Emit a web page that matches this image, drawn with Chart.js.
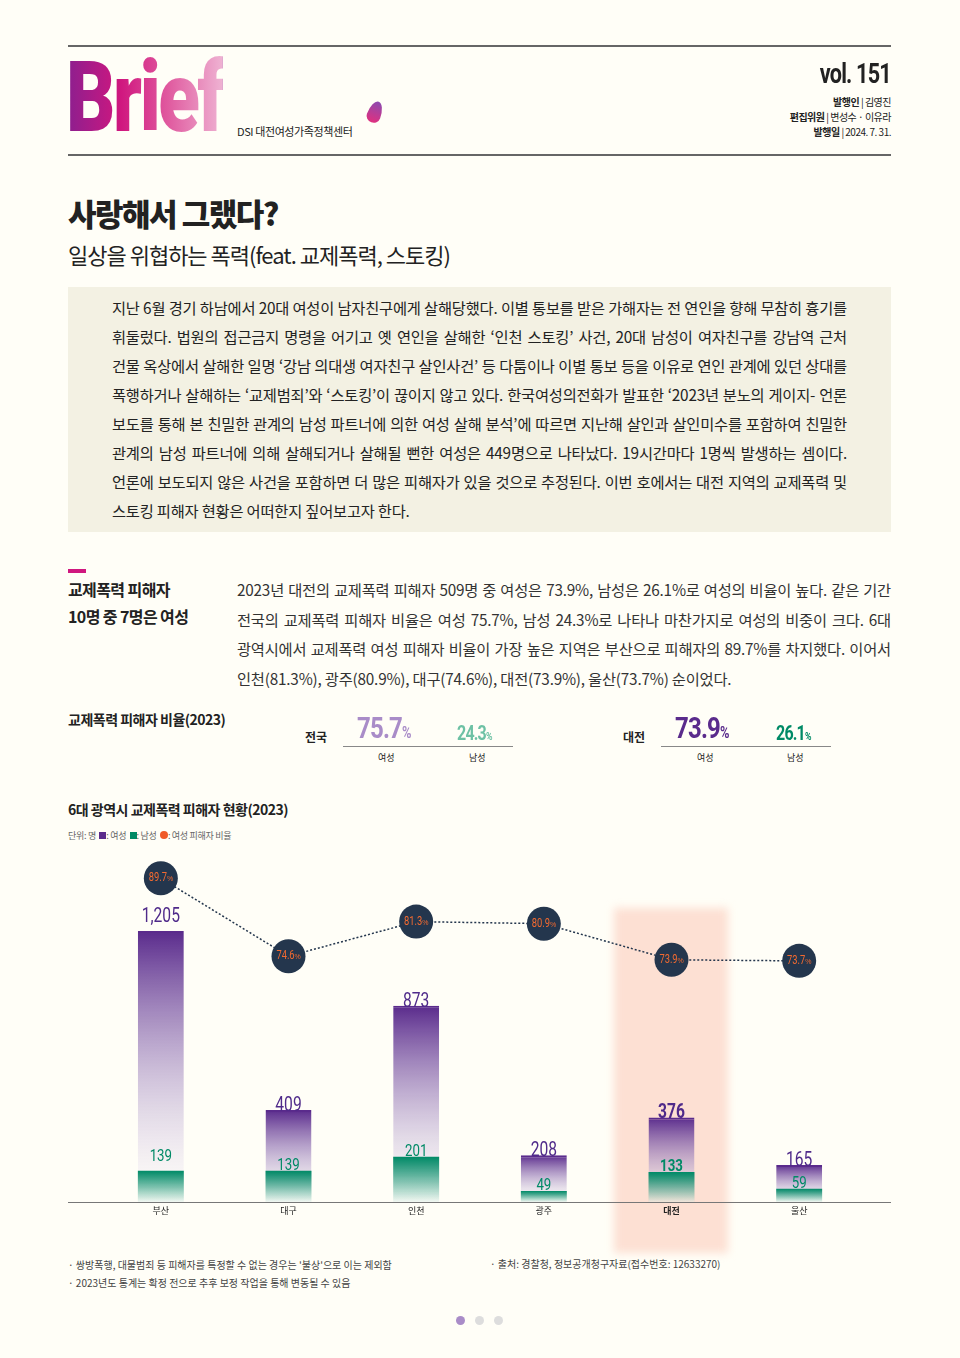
<!DOCTYPE html>
<html><head><meta charset="utf-8">
<script src="https://cdn.jsdelivr.net/npm/chart.js@4"></script>
<style>
body{margin:0;background:#fffef7;font-family:"Noto Sans CJK KR","Noto Sans",sans-serif;color:#222;}
#page{position:relative;width:960px;height:1358px;overflow:hidden;}
.abs{position:absolute;}
.hr{position:absolute;left:68px;width:823px;height:2px;background:#666;}
.brief{left:66px;top:48px;font-family:Roboto,sans-serif;font-weight:900;font-size:98px;letter-spacing:-3px;line-height:100px;background:linear-gradient(90deg,#8b1f8f,#d0177f 35%,#e05a9f 65%,#efb3d3);-webkit-background-clip:text;color:transparent;transform:scaleX(0.78);transform-origin:left;}
.para{font-size:15.3px;line-height:29px;letter-spacing:-0.2px;text-align:justify;word-break:keep-all;}
.num{font-family:Roboto,sans-serif;font-weight:bold;transform:scaleX(0.8);transform-origin:left;}
</style></head><body>
<div id="page">
<div class="hr" style="top:45px"></div>
<div class="hr" style="top:154px"></div>
<div class="abs brief">Brief</div>
<div class="abs" style="left:237px;top:123px;font-size:11px;letter-spacing:-0.4px">DSI 대전여성가족정책센터</div>
<div class="abs" style="left:368px;top:101px;width:14px;height:22px;background:linear-gradient(#8c4bb0,#e0307f);border-radius:50% 50% 50% 50%/70% 70% 30% 30%;transform:rotate(20deg)"></div>
<div class="abs num" style="right:69px;top:58px;font-size:27px;letter-spacing:-1px;transform-origin:right">vol. 151</div>
<div class="abs" style="right:69px;top:94px;font-size:10px;line-height:15px;text-align:right;letter-spacing:-0.5px"><b>발행인</b> | 김영진<br><b>편집위원</b> | 변성수 · 이유라<br><b>발행일</b> | 2024. 7. 31.</div>

<div class="abs" style="left:68px;top:190px;font-size:31px;font-weight:900;letter-spacing:-1.5px">사랑해서 그랬다?</div>
<div class="abs" style="left:68px;top:238px;font-size:22px;letter-spacing:-1px">일상을 위협하는 폭력(feat. 교제폭력, 스토킹)</div>

<div class="abs para" style="left:68px;top:287px;width:735px;height:226px;padding:6px 44px 13px 44px;background:#f3f1e3;">지난 6월 경기 하남에서 20대 여성이 남자친구에게 살해당했다. 이별 통보를 받은 가해자는 전 연인을 향해 무참히 흉기를 휘둘렀다. 법원의 접근금지 명령을 어기고 옛 연인을 살해한 ‘인천 스토킹’ 사건, 20대 남성이 여자친구를 강남역 근처 건물 옥상에서 살해한 일명 ‘강남 의대생 여자친구 살인사건’ 등 다툼이나 이별 통보 등을 이유로 연인 관계에 있던 상대를 폭행하거나 살해하는 ‘교제범죄’와 ‘스토킹’이 끊이지 않고 있다. 한국여성의전화가 발표한 ‘2023년 분노의 게이지- 언론 보도를 통해 본 친밀한 관계의 남성 파트너에 의한 여성 살해 분석’에 따르면 지난해 살인과 살인미수를 포함하여 친밀한 관계의 남성 파트너에 의해 살해되거나 살해될 뻔한 여성은 449명으로 나타났다. 19시간마다 1명씩 발생하는 셈이다. 언론에 보도되지 않은 사건을 포함하면 더 많은 피해자가 있을 것으로 추정된다. 이번 호에서는 대전 지역의 교제폭력 및 스토킹 피해자 현황은 어떠한지 짚어보고자 한다.</div>

<div class="abs" style="left:68px;top:569px;width:18px;height:4px;background:#d0177f"></div>
<div class="abs" style="left:68px;top:576px;font-size:16px;font-weight:bold;line-height:27px;letter-spacing:-0.6px">교제폭력 피해자<br>10명 중 7명은 여성</div>
<div class="abs para" style="left:237px;top:575px;width:654px;font-size:15.3px;line-height:29.5px;color:#333">2023년 대전의 교제폭력 피해자 509명 중 여성은 73.9%, 남성은 26.1%로 여성의 비율이 높다. 같은 기간 전국의 교제폭력 피해자 비율은 여성 75.7%, 남성 24.3%로 나타나 마찬가지로 여성의 비중이 크다. 6대 광역시에서 교제폭력 여성 피해자 비율이 가장 높은 지역은 부산으로 피해자의 89.7%를 차지했다. 이어서 인천(81.3%), 광주(80.9%), 대구(74.6%), 대전(73.9%), 울산(73.7%) 순이었다.</div>

<div class="abs" style="left:68px;top:709px;font-size:14px;font-weight:bold;letter-spacing:-0.5px">교제폭력 피해자 비율(2023)</div>
<div class="abs" style="left:305px;top:728px;font-size:12px;font-weight:bold">전국</div>
<div class="abs num" style="left:357px;top:710px;font-size:30px;color:#a98cc8;letter-spacing:-1px">75.7<span style="font-size:16px">%</span></div>
<div class="abs num" style="left:457px;top:721px;font-size:20px;color:#6dc1a4;letter-spacing:-1px">24.3<span style="font-size:11px">%</span></div>
<div class="abs" style="left:343px;top:746px;width:170px;height:1px;background:#888"></div>
<div class="abs" style="left:378px;top:751px;font-size:9px">여성</div>
<div class="abs" style="left:469px;top:751px;font-size:9px">남성</div>
<div class="abs" style="left:623px;top:728px;font-size:12px;font-weight:bold">대전</div>
<div class="abs num" style="left:675px;top:710px;font-size:30px;color:#5a2b8c;letter-spacing:-1px">73.9<span style="font-size:16px">%</span></div>
<div class="abs num" style="left:776px;top:721px;font-size:20px;color:#008a66;letter-spacing:-1px">26.1<span style="font-size:11px">%</span></div>
<div class="abs" style="left:661px;top:746px;width:170px;height:1px;background:#888"></div>
<div class="abs" style="left:697px;top:751px;font-size:9px">여성</div>
<div class="abs" style="left:787px;top:751px;font-size:9px">남성</div>

<div class="abs" style="left:68px;top:799px;font-size:14px;font-weight:bold;letter-spacing:-0.5px">6대 광역시 교제폭력 피해자 현황(2023)</div>
<div class="abs" style="left:68px;top:829px;font-size:9px;color:#666;letter-spacing:-0.3px">단위: 명 &nbsp;<span style="display:inline-block;width:7px;height:7px;background:#5a2b8c"></span>: 여성 &nbsp;<span style="display:inline-block;width:7px;height:7px;background:#008a66"></span>: 남성 &nbsp;<span style="display:inline-block;width:8px;height:8px;border-radius:50%;background:#f05a28"></span>: 여성 피해자 비율</div>

<div class="abs" style="left:614px;top:908px;width:114px;height:345px;background:#fde0d3;filter:blur(4px)"></div>
<div class="abs" style="left:68px;top:850px;width:823px;height:375px"><canvas id="c"></canvas></div>
<div class="abs" style="left:68px;top:1202px;width:823px;height:1px;background:#777"></div>

<div class="abs" style="left:68px;top:1256px;font-size:10px;color:#444;line-height:18px">· 쌍방폭행, 대물범죄 등 피해자를 특정할 수 없는 경우는 '불상'으로 이는 제외함<br>· 2023년도 통계는 확정 전으로 추후 보정 작업을 통해 변동될 수 있음</div>
<div class="abs" style="left:490px;top:1256px;font-size:10px;color:#444">· 출처: 경찰청, 정보공개청구자료(접수번호: 12633270)</div>
<div class="abs" style="left:456px;top:1316px;width:9px;height:9px;border-radius:50%;background:#a98cc8"></div>
<div class="abs" style="left:475px;top:1316px;width:9px;height:9px;border-radius:50%;background:#ddd"></div>
<div class="abs" style="left:494px;top:1316px;width:9px;height:9px;border-radius:50%;background:#ddd"></div>
</div>
<script>
const regions=["부산","대구","인천","광주","대전","울산"];
const female=[1205,409,873,208,376,165];
const male=[139,139,201,49,133,59];
const femaleRatio=[89.7,74.6,81.3,80.9,73.9,73.7];
const highlight="대전";

function grad(ctx,top,bottom,c1,c2){
  const g=ctx.createLinearGradient(0,top,0,bottom);g.addColorStop(0,c1);g.addColorStop(1,c2);return g;}
function narrowText(ctx,t,x,y,sx){ctx.save();ctx.translate(x,y);ctx.scale(sx,1);ctx.fillText(t,0,0);ctx.restore();}
const labelPlugin={id:'lbl',afterDatasetsDraw(chart){
  const ctx=chart.ctx;const x=chart.scales.x,y=chart.scales.y,y2=chart.scales.y2;
  ctx.save();ctx.textAlign='center';ctx.textBaseline='bottom';
  regions.forEach((r,i)=>{
    const cx=x.getPixelForValue(i);const b=r===highlight?'bold ':'';
    ctx.font=b+'20px Roboto, sans-serif';
    ctx.fillStyle='#4f2a8a';narrowText(ctx,female[i].toLocaleString('en-US'),cx,y.getPixelForValue(female[i])-4,0.78);
    ctx.font=b+'17px Roboto, sans-serif';
    ctx.fillStyle='#008a66';narrowText(ctx,String(male[i]),cx,y.getPixelForValue(male[i])-5,0.78);
    ctx.font=b+'9px "Noto Sans CJK KR"';ctx.fillStyle='#222';ctx.textBaseline='top';
    ctx.fillText(r,cx,chart.chartArea.bottom+4);ctx.textBaseline='bottom';
    const py=y2.getPixelForValue(femaleRatio[i]);
    ctx.beginPath();ctx.arc(cx,py,17,0,Math.PI*2);ctx.fillStyle='#24364d';ctx.fill();
    ctx.fillStyle='#f26a30';ctx.textBaseline='middle';
    ctx.font='13px Roboto, sans-serif';
    const t=femaleRatio[i].toFixed(1);const w=ctx.measureText(t).width*0.72;
    ctx.textAlign='center';narrowText(ctx,t,cx-3,py,0.72);
    ctx.font='7px sans-serif';ctx.textAlign='left';ctx.fillText('%',cx-3+w/2,py+1);
    ctx.textAlign='center';
  });
  ctx.restore();}};
new Chart(document.getElementById('c'),{
  data:{labels:regions,datasets:[
    {type:'line',label:'여성 피해자 비율',data:femaleRatio,yAxisID:'y2',borderColor:'#24364d',borderWidth:1.5,borderDash:[2,2],pointRadius:0,order:0},
    {type:'bar',label:'남성',data:male,yAxisID:'y',grouped:false,order:1,
     backgroundColor:c=>{const ca=c.chart.chartArea;if(!ca)return '#008a66';const t=c.chart.scales.y.getPixelForValue(male[c.dataIndex]);return grad(c.chart.ctx,t,ca.bottom,'#008a66','rgba(0,138,102,0.05)');}},
    {type:'bar',label:'여성',data:female,yAxisID:'y',grouped:false,order:2,
     backgroundColor:c=>{const ca=c.chart.chartArea;if(!ca)return '#5a2b8c';const t=c.chart.scales.y.getPixelForValue(female[c.dataIndex]);return grad(c.chart.ctx,t,ca.bottom,'#5a2b8c','rgba(255,255,255,0.3)');},
     borderColor:'#5a2b8c',borderWidth:{top:2,left:0,right:0,bottom:0}}
  ]},
  options:{responsive:true,maintainAspectRatio:false,animation:false,
    layout:{padding:{left:29,right:28,top:5,bottom:0}},
    datasets:{bar:{barPercentage:0.36,categoryPercentage:1}},
    plugins:{legend:{display:false},tooltip:{enabled:false}},
    scales:{x:{offset:true,grid:{display:false},border:{display:false},ticks:{display:false},afterFit(s){s.height=23;}},
      y:{min:0,max:1543,display:false},
      y2:{min:27,max:94.2,display:false}}},
  plugins:[labelPlugin]});
</script>
</body></html>
